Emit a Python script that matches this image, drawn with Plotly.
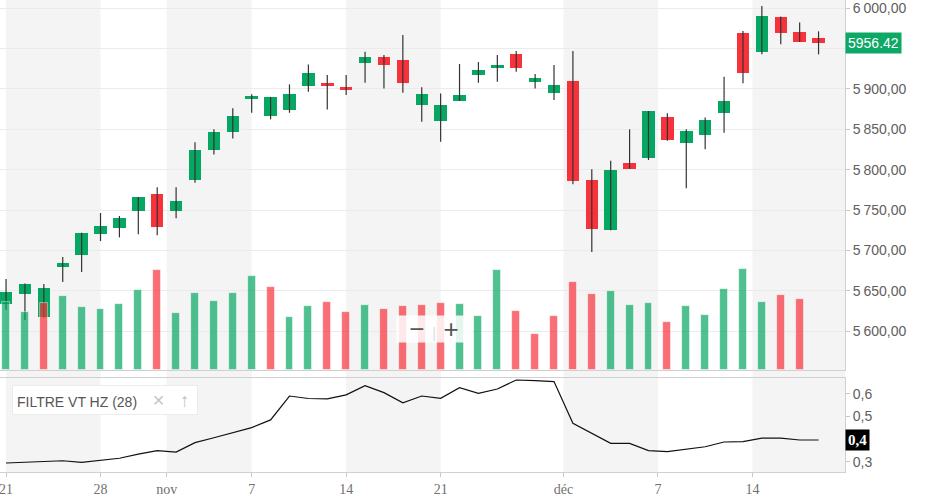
import plotly.graph_objects as go

# ---------------- data ----------------
days = list(range(44))  # trading days 21 Oct .. 19 Dec
opens = [5633.7, 5646.0, 5617.6, 5679.5, 5694.3, 5720.3, 5727.7, 5749.1, 5769.8, 5749.1,
         5787.1, 5824.3, 5846.9, 5887.4, 5866.7, 5874.1, 5903.8, 5907.5, 5902.2, 5932.3,
         5939.7, 5935.6, 5879.9, 5860.5, 5885.3, 5917.1, 5926.1, 5943.1, 5908.8, 5895.2,
         5909.7, 5787.1, 5725.2, 5807.8, 5814.7, 5864.7, 5833.3, 5843.2, 5870.4, 5969.4,
         5945.9, 5989.2, 5970.3, 5962.5]
highs = [5664.6, 5659.0, 5658.4, 5691.8, 5722.0, 5746.3, 5742.6, 5766.0, 5778.1, 5778.1,
         5833.8, 5849.9, 5875.9, 5893.2, 5890.0, 5905.6, 5930.3, 5917.1, 5917.1, 5945.9,
         5941.8, 5966.6, 5901.9, 5894.4, 5930.7, 5933.2, 5941.8, 5946.8, 5918.3, 5929.5,
         5946.8, 5800.4, 5811.0, 5849.9, 5872.5, 5869.7, 5849.9, 5864.7, 5915.0, 5971.5,
         6002.5, 5989.5, 5982.3, 5971.2]
lows = [5626.2, 5613.9, 5617.0, 5660.9, 5673.3, 5711.6, 5716.2, 5719.9, 5718.7, 5739.7,
        5783.8, 5818.9, 5838.7, 5870.4, 5862.3, 5870.4, 5896.4, 5874.6, 5892.3, 5907.5,
        5900.6, 5895.2, 5859.3, 5834.5, 5885.0, 5907.5, 5908.8, 5921.2, 5900.6, 5886.1,
        5781.8, 5698.0, 5725.0, 5801.0, 5811.9, 5835.8, 5776.9, 5825.1, 5845.7, 5906.8,
        5942.7, 5955.1, 5958.0, 5942.7]
closes = [5648.5, 5658.4, 5653.5, 5684.4, 5721.5, 5730.2, 5739.7, 5765.7, 5729.3, 5761.1,
          5824.3, 5846.5, 5866.3, 5891.1, 5889.5, 5893.2, 5919.6, 5903.5, 5898.5, 5939.7,
          5929.5, 5907.5, 5893.6, 5879.9, 5892.3, 5923.3, 5929.5, 5926.1, 5913.0, 5904.7,
          5785.9, 5726.5, 5799.5, 5801.1, 5872.5, 5836.6, 5847.8, 5861.4, 5884.9, 5919.2,
          5990.1, 5968.7, 5958.3, 5956.42]
volumes = [68, 58, 67, 74, 63, 61, 66, 80, 100, 57,
           77, 69, 77, 94, 83, 53, 64, 68, 58, 65,
           61, 64, 65, 67, 66, 54, 100, 59, 36, 54,
           88, 76, 79, 65, 67, 48, 64, 55, 81, 101,
           68, 75, 71, None]
volume_up = [1, 1, 0, 1, 1, 1, 1, 1, 0, 1,
             1, 1, 1, 1, 0, 1, 1, 0, 0, 1,
             0, 0, 0, 0, 1, 1, 1, 0, 0, 0,
             0, 0, 1, 1, 1, 0, 1, 1, 1, 1,
             1, 0, 0, 1]
filtre = [0.294, 0.297, 0.300, 0.304, 0.297, 0.307, 0.315, 0.333, 0.349, 0.342,
          0.384, 0.406, 0.430, 0.451, 0.485, 0.591, 0.580, 0.578, 0.596, 0.637,
          0.606, 0.561, 0.591, 0.581, 0.628, 0.603, 0.622, 0.662, 0.659, 0.655,
          0.470, 0.426, 0.381, 0.381, 0.349, 0.344, 0.356, 0.366, 0.387, 0.389,
          0.404, 0.404, 0.396, 0.396]
x_tick_pos = [0, 5, 8.5, 13, 18, 23, 29.5, 34.5, 39.5]
x_tick_text = ["21", "28", "nov", "7", "14", "21", "déc", "7", "14"]
week_bands = [(0, 5), (8.5, 13), (18, 23), (29.5, 34.5), (39.5, 45)]
price_ticks = [5600, 5650, 5700, 5750, 5800, 5850, 5900, 5950, 6000]
price_tick_text = ["5\u202f600,00", "5\u202f650,00", "5\u202f700,00", "5\u202f750,00", "5\u202f800,00",
                   "5\u202f850,00", "5\u202f900,00", "", "6\u202f000,00"]
ind_ticks = [0.3, 0.4, 0.5, 0.6]
ind_tick_text = ["0,3", "", "0,5", "0,6"]
last_price_text = "5956.42"
last_ind_text = "0,4"
indicator_name = "FILTRE VT HZ (28)"

GREEN = "#06a762"
RED = "#f8323b"

fig = go.Figure()

# wicks
wx, wy = [], []
for d, h, l in zip(days, highs, lows):
    wx += [d, d, None]
    wy += [l, h, None]
fig.add_trace(go.Scatter(x=wx, y=wy, mode="lines", line=dict(color="#333333", width=1.2),
                         hoverinfo="skip", showlegend=False, xaxis="x", yaxis="y"))

# bodies
bases = [min(o, c) for o, c in zip(opens, closes)]
heights = [max(abs(c - o), 1.0) for o, c in zip(opens, closes)]
body_colors = [GREEN if c >= o else RED for o, c in zip(opens, closes)]
fig.add_trace(go.Bar(x=days, y=heights, base=bases, width=0.66,
                     marker=dict(color=body_colors, line=dict(width=0)),
                     showlegend=False, xaxis="x", yaxis="y"))

# volume
vol_colors = [GREEN if u else RED for u in volume_up]
fig.add_trace(go.Bar(x=days, y=volumes, width=0.42, opacity=0.7,
                     marker=dict(color=vol_colors, line=dict(width=0.8, color="rgba(255,255,255,0.8)")),
                     showlegend=False, xaxis="x", yaxis="y3"))

# indicator
fig.add_trace(go.Scatter(x=days, y=filtre, mode="lines", line=dict(color="#111111", width=1.2),
                         showlegend=False, xaxis="x2", yaxis="y2"))

shapes = []
for a, b in week_bands:
    shapes.append(dict(type="rect", xref="x", yref="paper", x0=a, x1=b, y0=0, y1=1,
                       fillcolor="#f4f4f4", line=dict(width=0), layer="below"))

xr = [-0.32, 44.4]
fig.update_layout(
    width=932, height=496,
    margin=dict(l=0, r=87, t=0, b=24),
    paper_bgcolor="white", plot_bgcolor="rgba(0,0,0,0)",
    barmode="overlay", bargap=0,
    shapes=shapes,
    showlegend=False,
    xaxis=dict(domain=[0, 1], range=xr, anchor="y", showticklabels=False, showgrid=False,
               zeroline=False, showline=True, linecolor="#d0d0d0", linewidth=1, ticks=""),
    xaxis2=dict(domain=[0, 1], range=xr, anchor="y2", matches="x", showgrid=False, zeroline=False,
                tickvals=x_tick_pos, ticktext=x_tick_text, ticks="outside", ticklen=4,
                ticklabeloverflow="allow",
                tickcolor="#c8c8c8", showline=True, mirror=True, linecolor="#d0d0d0", linewidth=1,
                tickfont=dict(family="Liberation Serif, Times New Roman, serif", size=14, color="#707070")),
    yaxis=dict(domain=[0.2161, 1], range=[5552, 6010], side="right", anchor="x",
               tickvals=price_ticks, ticktext=price_tick_text, showgrid=True, gridcolor="#ebebeb",
               gridwidth=1, zeroline=False, showline=True, linecolor="#d0d0d0", ticks="outside",
               ticklen=4, tickcolor="#c8c8c8", ticklabeloverflow="allow",
               tickfont=dict(family="Liberation Sans, Arial, sans-serif", size=14, color="#606060")),
    yaxis3=dict(domain=[0.2161, 1], range=[0, 370], overlaying="y", visible=False, anchor="x"),
    yaxis2=dict(domain=[0, 0.1992], range=[0.254, 0.671], side="right", anchor="x2",
                tickvals=ind_ticks, ticktext=ind_tick_text, showgrid=False, zeroline=False,
                showline=True, linecolor="#d0d0d0", ticks="outside", ticklen=4, tickcolor="#c8c8c8",
                tickfont=dict(family="Liberation Sans, Arial, sans-serif", size=14, color="#606060")),
)

annotations = [
    dict(xref="paper", yref="y", x=1.0, y=closes[-1], xanchor="left", yanchor="middle",
         text=last_price_text, showarrow=False, bgcolor="#0ca866", borderpad=2,
         font=dict(family="Liberation Sans, Arial, sans-serif", size=14, color="white")),
    dict(xref="paper", yref="y2", x=1.0, y=filtre[-1], xanchor="left", yanchor="middle",
         text="<b>" + last_ind_text + "</b>", showarrow=False, bgcolor="black", borderpad=2,
         font=dict(family="Liberation Serif, Times New Roman, serif", size=15, color="white")),
    dict(xref="paper", yref="paper", x=12 / 845, y=(472 - 400) / 472, xanchor="left", yanchor="middle",
         text=indicator_name + "&nbsp;&nbsp;&nbsp;&nbsp;<span style='color:#c4c4c4;font-size:20px'>×</span>"
              "&nbsp;&nbsp;&nbsp;&nbsp;<span style='color:#c4c4c4;font-size:19px'>↑</span>",
         showarrow=False, bgcolor="white", bordercolor="#ececec", borderwidth=1, borderpad=4,
         width=176, height=20, align="left",
         font=dict(family="Liberation Sans, Arial, sans-serif", size=14, color="#555555")),
    dict(xref="paper", yref="paper", x=434 / 845, y=(472 - 329) / 472, xanchor="center", yanchor="middle",
         text="<span style='font-size:26px'>−</span>&nbsp;&nbsp;<span style='color:#dddddd'>|</span>"
              "&nbsp;&nbsp;<span style='font-size:26px'>+</span>",
         showarrow=False, bgcolor="rgba(255,255,255,0.85)", borderpad=1, width=72, height=24,
         font=dict(family="Liberation Sans, Arial, sans-serif", size=14, color="#555555")),
]
fig.update_layout(annotations=annotations)

fig.write_html("out.html", config={"displayModeBar": False},
               post_script="document.body.style.margin='0px';")
